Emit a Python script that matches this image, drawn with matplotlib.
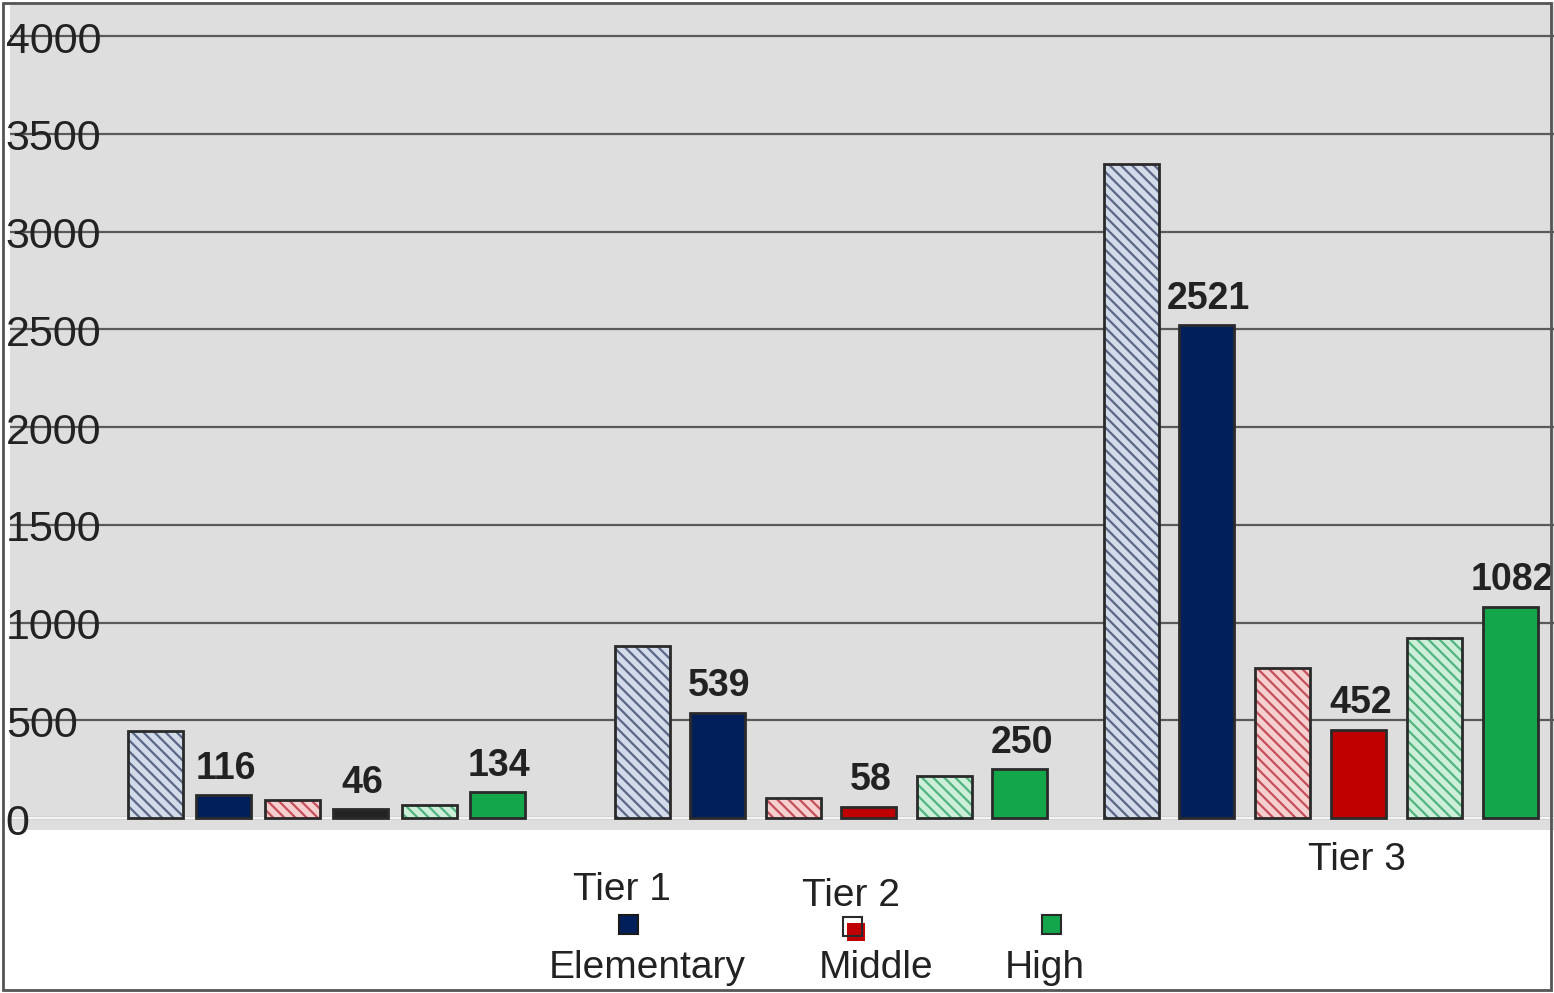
import matplotlib
matplotlib.use("Agg")
import matplotlib.pyplot as plt
from matplotlib.patches import Rectangle

plt.rcParams['font.family'] = ['Liberation Sans', 'DejaVu Sans']
plt.rcParams['hatch.linewidth'] = 1.6

# ---- data ----
tiers = ["Tier 1", "Tier 2", "Tier 3"]
levels = ["Elementary", "Middle", "High"]
elem_total = [445, 880, 3345]
elem_value = [116, 539, 2521]
mid_total = [92, 102, 767]
mid_value = [46, 58, 452]
high_total = [66, 215, 921]
high_value = [134, 250, 1082]
y_ticks = [0, 500, 1000, 1500, 2000, 2500, 3000, 3500, 4000]

# ---- style ----
solid_colors = ["#001f5b", "#c00000", "#13a64b"]
hatch_faces = ["#d3dbea", "#f6cfcf", "#cdeed9"]
hatch_lines = ["#5b6785", "#c4505c", "#52b57f"]
bg = "#dedede"

fig = plt.figure(figsize=(15.54, 9.93), dpi=100)
W, H = 1554, 993
ax = fig.add_axes([10 / W, (H - 830) / H, (W - 10) / W, 828 / H])
ax.set_facecolor(bg)
ax.set_xlim(10, 1554)
ax.set_ylim(-61, 4174)
for s in ax.spines.values():
    s.set_visible(False)
ax.set_xticks([])
ax.set_yticks(y_ticks)
ax.tick_params(axis='y', length=0, labelleft=False)
ax.grid(axis='y', color='#5a5a5a', linewidth=1.6)
ax.set_axisbelow(True)
ax.axhline(0, color='#f4f4f4', linewidth=1.6, zorder=1)

for v in y_ticks:
    ax.annotate(str(v), (0.0, v), xycoords=ax.get_yaxis_transform(),
                xytext=(-3, -4), textcoords='offset points',
                ha='left', va='center', fontsize=31, color='#222222',
                zorder=5)

# group layout: left slot centre and slot spacing for each tier
group_starts = [155, 642, 1131]
slot_steps = [68.5, 75.5, 75.8]
bar_w = 55

series = [
    (elem_total, elem_value),
    (mid_total, mid_value),
    (high_total, high_value),
]

for ti in range(len(tiers)):
    base = group_starts[ti]
    step = slot_steps[ti]
    for li, (tot, val) in enumerate(series):
        x_h = base + (2 * li) * step
        x_s = base + (2 * li + 1) * step
        # hatched total bar
        ax.bar(x_h, tot[ti], width=bar_w, color=hatch_faces[li],
               edgecolor=hatch_lines[li], hatch='\\\\\\', linewidth=0,
               zorder=2)
        ax.bar(x_h, tot[ti], width=bar_w, facecolor='none',
               edgecolor='#2a2a2a', linewidth=2, zorder=3)
        # solid value bar
        face = solid_colors[li]
        if ti == 0 and li == 1:
            face = '#222222'
        ax.bar(x_s, val[ti], width=bar_w, color=face,
               edgecolor='#2a2a2a', linewidth=2, zorder=3)
        ax.annotate(str(val[ti]), (x_s + 2, val[ti]),
                    xytext=(0, 6), textcoords='offset points',
                    ha='center', va='bottom', fontsize=27,
                    fontweight='bold', color='#222222', zorder=6)

# ---- category labels and keys below the plot ----
def ftext(px, py, s, **kw):
    fig.text(px / W, 1 - py / H, s, **kw)

lbl = dict(fontsize=28, color='#222222', ha='center', va='center')
ftext(622, 890, "Tier 1", **lbl)
ftext(851, 896, "Tier 2", **lbl)
ftext(1357, 860, "Tier 3", **lbl)
ftext(647, 968, levels[0], **lbl)
ftext(876, 968, levels[1], **lbl)
ftext(1045, 968, levels[2], **lbl)

def fsq(px, py, size, face, edge, lw=1.5):
    fig.add_artist(Rectangle((px / W, 1 - (py + size) / H), size / W, size / H,
                             transform=fig.transFigure, facecolor=face,
                             edgecolor=edge, linewidth=lw))

fsq(619, 915, 19, solid_colors[0], '#1a1a1a')
fsq(847, 923, 18, solid_colors[1], solid_colors[1], 0)
fsq(843, 917, 19, 'none', '#2a2a2a')
fsq(1042, 915, 19, solid_colors[2], '#2a2a2a')

# outer frame
fig.add_artist(Rectangle((3 / W, 3 / H), (W - 6) / W, (H - 6) / H,
                         transform=fig.transFigure, facecolor='none',
                         edgecolor='#555555', linewidth=2))

fig.savefig("out.png", dpi=100, facecolor='white')
